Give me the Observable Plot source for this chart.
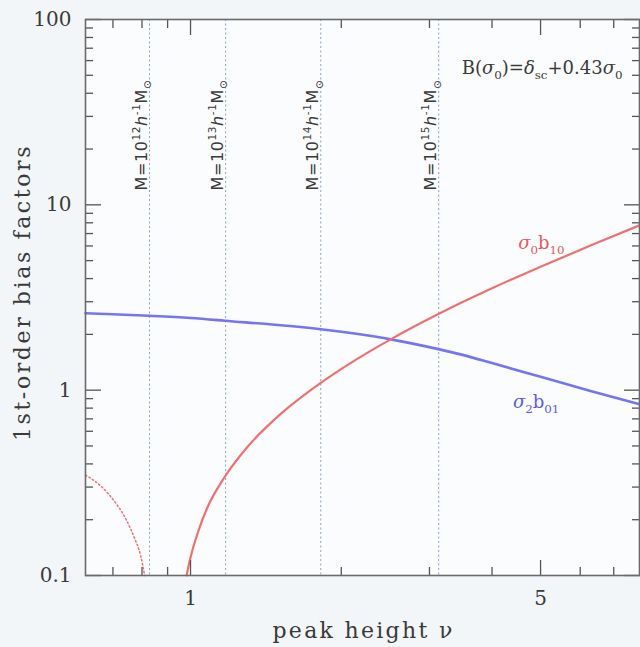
<!DOCTYPE html>
<html>
<head>
<meta charset="utf-8">
<script src="https://cdn.jsdelivr.net/npm/d3@7"></script>
<script src="https://cdn.jsdelivr.net/npm/@observablehq/plot@0.6"></script>
<style>
  html, body { margin: 0; padding: 0; background: #f3f6f9; }
  #chart { width: 640px; height: 647px; }
</style>
</head>
<body>
<div id="chart"></div>
<script>
// ---- data ----
const blueNu  = [0.617, 0.70, 0.825, 1.0, 1.17, 1.82, 2.51, 3.14, 3.46, 4.0, 5.0, 6.29, 7.88];
const blueVal = [2.60, 2.57, 2.52, 2.45, 2.37, 2.13, 1.88, 1.66, 1.56, 1.40, 1.18, 0.99, 0.84];

const redNu  = [0.982, 1.0, 1.04, 1.08, 1.17, 1.30, 1.51, 1.82, 2.06, 2.51, 3.14, 3.46, 4.0, 5.0, 6.29, 7.88];
const redVal = [0.100, 0.125, 0.178, 0.232, 0.340, 0.495, 0.740, 1.095, 1.37, 1.88, 2.59, 2.95, 3.55, 4.63, 6.03, 7.75];

// negative branch (|value|), dotted
const redNegNu  = [0.617, 0.661, 0.69, 0.714, 0.747, 0.77, 0.795, 0.81];
const redNegVal = [0.348, 0.305, 0.270, 0.240, 0.196, 0.163, 0.128, 0.10];

const massNu  = [0.828, 1.175, 1.82, 3.13];
const massExp = ["12", "13", "14", "15"];

const xMajor = [1, 5];
const xMinor = [0.7, 0.8, 0.9, 2, 3, 4, 6, 7];
const yMajor = [0.1, 1, 10, 100];
const yMinor = [0.2,0.3,0.4,0.5,0.6,0.7,0.8,0.9, 2,3,4,5,6,7,8,9, 20,30,40,50,60,70,80,90];

const xTitle = "peak height ν";
const yTitle = "1st-order bias factors";

const blue = blueNu.map((nu, i) => ({nu, v: blueVal[i]}));
const red = redNu.map((nu, i) => ({nu, v: redVal[i]}));
const redNeg = redNegNu.map((nu, i) => ({nu, v: redNegVal[i]}));
const mass = massNu.map((nu, i) => ({nu, label: `M=10^{${massExp[i]}}$h$^{-1}M_{⊙}`}));

const RED = "#f07070";
const BLUE = "#7474f4";
const TICK = "#555";
const INK = "#3a3a3a";

function tickMarks(anchor, ticks, size, shift) {
  const o = {anchor, ticks, tickSize: size, fill: "none", stroke: TICK, strokeWidth: 1.3, label: null};
  if (anchor === "bottom") o.dy = -shift;
  if (anchor === "top") o.dy = shift;
  if (anchor === "left") o.dx = shift;
  if (anchor === "right") o.dx = -shift;
  return (anchor === "bottom" || anchor === "top") ? Plot.axisX(o) : Plot.axisY(o);
}

const plot = Plot.plot({
  width: 640,
  height: 647,
  marginTop: 19,
  marginBottom: 72,
  marginLeft: 85,
  marginRight: 1,
  x: {type: "log", domain: [0.617, 7.88], axis: null},
  y: {type: "log", domain: [0.1, 100], axis: null},
  style: {background: "transparent", fontFamily: "DejaVu Serif", color: INK},
  marks: [
    Plot.frame({fill: "#fbfcfd", stroke: "none"}),
    Plot.ruleX(mass, {x: "nu", stroke: "#8ea2bf", strokeWidth: 1, strokeDasharray: "2,2.5"}),
    Plot.text(mass, {x: "nu", frameAnchor: "top", dy: 171, dx: -14, rotate: -90, textAnchor: "start",
      text: "label", fontFamily: "DejaVu Sans", fontSize: 16, fill: INK}),
    Plot.line(redNeg, {x: "nu", y: "v", stroke: RED, strokeWidth: 1.5, strokeDasharray: "1.5,2.5", curve: "monotone-x"}),
    Plot.line(blue, {x: "nu", y: "v", stroke: BLUE, strokeWidth: 2.6, curve: "monotone-x"}),
    Plot.line(red, {x: "nu", y: "v", stroke: RED, strokeWidth: 2.2, curve: "monotone-x"}),
    // ticks (inside the frame)
    tickMarks("bottom", xMajor, 15, 15),
    tickMarks("bottom", xMinor, 8, 8),
    tickMarks("top", xMajor, 15, 15),
    tickMarks("top", xMinor, 8, 8),
    tickMarks("left", yMajor, 16, 16),
    tickMarks("left", yMinor, 8, 8),
    tickMarks("right", yMajor, 16, 16),
    tickMarks("right", yMinor, 8, 8),
    Plot.frame({stroke: "#6a6a6a", strokeWidth: 1.6}),
    // tick labels
    Plot.axisX({ticks: xMajor, anchor: "bottom", tickSize: 0, tickPadding: 15, fontSize: 20,
      tickFormat: d => String(d), label: null, fill: INK}),
    Plot.axisY({ticks: yMajor, anchor: "left", tickSize: 0, tickPadding: 14, fontSize: 20,
      tickFormat: d => String(d), label: null, fill: INK}),
    // axis titles
    Plot.text([xTitle], {frameAnchor: "bottom", dy: 55, dx: 1, textAnchor: "middle", lineAnchor: "middle",
      fontSize: 22, fill: INK}),
    Plot.text([yTitle], {frameAnchor: "left", dx: -63, dy: -5, rotate: -90,
      textAnchor: "middle", lineAnchor: "middle", fontSize: 22, fill: INK}),
    // annotations
    Plot.text(["B($σ$_{0})=$δ$_{sc}+0.43$σ$_{0}"], {frameAnchor: "top-right", dx: -17, dy: 49,
      textAnchor: "end", lineAnchor: "middle", fontSize: 18, fill: INK}),
    Plot.text(["$σ$_{0}b_{10}"], {x: [5.02], y: [6.2], fontSize: 18, fill: "#e85a5a"}),
    Plot.text(["$σ$_{2}b_{01}"], {x: [4.9], y: [0.86], fontSize: 18, fill: "#5a5af0"})
  ]
});

document.getElementById("chart").appendChild(plot);

// rich text: ^{sup}, _{sub}, $italic$
function richify(el) {
  const s = el.textContent;
  if (!/[\^_$]/.test(s)) return;
  const fs = parseFloat(getComputedStyle(el).fontSize) || 16;
  const re = /\^\{([^}]*)\}|_\{([^}]*)\}|\$([^$]*)\$|([^\^_$]+)/g;
  while (el.firstChild) el.removeChild(el.firstChild);
  let shift = 0, m;
  while ((m = re.exec(s))) {
    const t = document.createElementNS("http://www.w3.org/2000/svg", "tspan");
    let target = 0;
    if (m[1] !== undefined) { t.textContent = m[1]; t.setAttribute("font-size", fs * 0.66); target = -0.42 * fs; }
    else if (m[2] !== undefined) { t.textContent = m[2]; t.setAttribute("font-size", fs * 0.66); target = 0.28 * fs; }
    else if (m[3] !== undefined) { t.textContent = m[3]; t.setAttribute("font-style", "italic"); }
    else { t.textContent = m[4]; }
    if (target !== shift) t.setAttribute("dy", target - shift);
    shift = target;
    el.appendChild(t);
  }
}
plot.querySelectorAll("text").forEach(el => {
  const s = el.textContent;
  if (s === xTitle) el.setAttribute("letter-spacing", "2.3");
  else if (s === yTitle) el.setAttribute("letter-spacing", "2.6");
  else if (s.startsWith("M=")) el.setAttribute("letter-spacing", "0.6");
  richify(el);
});
</script>
</body>
</html>
